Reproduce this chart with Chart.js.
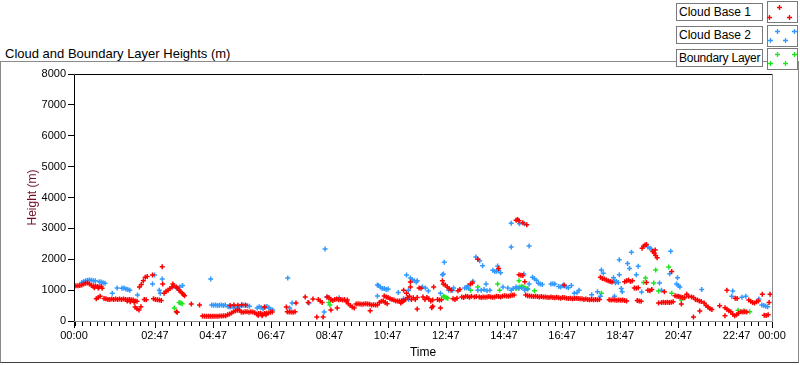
<!DOCTYPE html>
<html>
<head>
<meta charset="utf-8">
<script src="https://cdn.jsdelivr.net/npm/chart.js@4.4.1/dist/chart.umd.min.js"></script>
<style>
  body { margin: 0; background: #fff; font-family: "Liberation Sans", Arial, sans-serif; }
  #wrap { position: relative; width: 800px; height: 365px; overflow: hidden; }
  #frame { position: absolute; left: 0; top: 61px; width: 797px; height: 300px;
           border: 1px solid #8a8a8a; border-bottom-color: #404040; }
  #title { position: absolute; left: 5px; top: 46px; font-size: 13px; line-height: 15px; color: #000; white-space: nowrap; }
  .lbl { position: absolute; left: 676px; width: 87px; height: 18px; box-sizing: border-box; white-space: nowrap; overflow: hidden;
         border: 1px solid #7a7a7a; background: #fff; font-size: 12px; line-height: 16px; padding-left: 2px; }
  .sw { position: absolute; left: 767px; width: 31px; height: 22px; box-sizing: border-box;
        border: 1px solid #7a7a7a; background: #fff; }
  canvas { position: absolute; left: 0; top: 0; }
</style>
</head>
<body>
<div id="wrap">
  <div id="frame"></div>
  <div id="title">Cloud and Boundary Layer Heights (m)</div>
  <div class="lbl" style="top:3px">Cloud Base 1</div>
  <div class="sw" style="top:1px"></div>
  <div class="lbl" style="top:26px">Cloud Base 2</div>
  <div class="sw" style="top:25px"></div>
  <div class="lbl" style="top:49px; letter-spacing:-0.25px">Boundary Layer</div>
  <div class="sw" style="top:48px"></div>
  <canvas id="chart" width="800" height="365"></canvas>
</div>
<script>
// Werte: [Minuten seit 00:00, Höhe in m]
const cloudBase1 = [
  [0,1130],[4,1140],[8,1140],[12,1150],[16,1170],[20,1200],[24,1220],[28,1230],[32,1200],[36,1150],[40,1130],[44,1130],[48,1120],[52,1100],[56,1120],[42,1080],[50,1070],[58,1060],
  [46,720],[50,760],[54,800],
  [62,730],[66,720],[70,700],[74,700],[78,710],[82,700],[86,710],[90,700],[94,710],[98,700],[102,710],[106,700],[110,690],[114,700],[118,690],[122,680],[126,650],[130,640],
  [110,650],[116,620],[124,610],[126,450],[130,400],[134,360],[138,460],
  [135,1100],[139,1180],[143,1300],[147,1420],[151,1440],[145,700],[149,690],
  [162,1490],[164,720],[168,700],[172,690],[176,680],[180,660],
  [182,1760],[183,1200],[186,900],[190,960],[194,1000],[198,1050],[202,1100],[204,1200],[206,1130],
  [211,1100],[214,1060],[217,1000],[220,950],[223,900],[226,860],[228,820],
  [211,300],[213,280],[242,550],[259,520],
  [265,160],[269,150],[273,150],[277,150],[281,150],[285,150],[289,150],[293,150],[297,155],[301,160],[305,160],[309,170],[313,170],
  [317,200],[321,230],[325,260],[329,300],[333,330],[337,350],[341,360],
  [322,500],[330,520],[338,510],[346,530],[354,520],
  [345,290],[349,280],[353,300],[357,300],[361,280],[365,300],[369,290],[373,270],
  [377,230],[381,240],[385,250],[389,220],[393,240],[397,250],[401,260],[405,280],[409,290],[380,180],[388,170],[396,200],[393,450],
  [438,450],[440,300],[444,290],[448,290],[452,280],[456,300],[458,580],
  [477,780],[483,600],[493,710],[501,130],[514,130],
  [504,700],[508,650],[512,600],[522,780],[526,760],[530,700],[534,660],[530,360],
  [538,700],[542,710],[546,690],[550,700],[554,680],[558,700],[543,420],
  [562,620],[564,680],[566,560],[570,500],[574,450],[578,420],
  [582,550],[586,560],[590,550],[594,540],[598,550],[602,560],[606,550],[610,540],[611,330],
  [614,520],[618,530],[622,520],[626,520],
  [630,600],[634,640],[638,650],[642,600],[646,560],
  [640,810],[644,780],[648,760],[652,720],[656,700],[660,680],[664,650],[668,650],[672,650],[676,640],[680,660],
  [684,700],[686,900],[688,760],[692,800],
  [674,580],[678,620],[696,700],[680,1000],[694,1100],[694,1260],
  [700,750],[704,700],[708,760],[708,390],[712,1070],[716,1060],
  [720,780],[724,700],[728,760],[732,720],[736,650],[740,680],[740,480],[738,430],[742,1100],
  [750,700],[754,680],[758,690],[756,420],[760,1300],
  [762,1200],[766,1170],[770,1100],[774,1050],[778,1000],
  [782,720],[786,700],[790,740],[792,980],[796,1020],
  [800,780],[804,760],[808,800],[812,790],[816,770],[820,800],[818,1200],[822,1230],[826,780],[830,790],[833,2000],
  [836,780],[840,760],[844,780],[848,770],[852,780],[856,790],[860,780],[864,770],[868,780],[872,800],[876,790],[880,780],[876,1700],
  [884,800],[888,820],[892,810],[896,800],[900,820],[904,830],[908,840],
  [912,3260],[915,3290],[918,3250],[926,3180],[934,3120],
  [918,1500],[922,1480],[926,1470],[930,1270],
  [932,840],[936,820],[940,810],[944,800],[948,790],[952,800],[956,790],[960,780],[964,790],[968,780],
  [972,780],[976,770],[980,760],[984,780],[988,760],[992,750],[996,770],[1000,750],[1004,740],[1008,760],[1011,1170],[1012,750],[1016,740],[1020,730],[1024,740],[1028,720],[1032,730],[1036,740],[1040,730],[1044,720],
  [1048,720],[1052,700],[1056,710],[1060,700],[1064,690],[1068,700],[1072,690],[1076,700],[1080,690],[1084,700],
  [1086,1420],[1090,1380],[1094,1360],[1098,1330],[1102,1300],[1106,1280],[1110,1260],
  [1104,690],[1108,680],[1112,690],[1116,680],[1120,670],[1124,680],[1128,670],[1132,680],[1136,660],[1140,650],
  [1136,1270],[1140,1300],[1144,1330],[1148,1280],[1152,1300],
  [1156,1070],[1160,1060],[1164,1080],[1162,660],[1166,650],[1170,640],
  [1172,2360],[1175,2420],[1178,2460],[1181,2480],[1194,2250],[1197,2200],[1199,2300],[1200,2120],[1203,2050],
  [1181,1250],[1184,1000],[1188,980],[1192,1020],
  [1233,1600],[1206,580],[1212,600],[1216,610],[1220,600],[1224,610],[1228,600],[1232,610],[1236,620],[1218,950],
  [1240,820],[1244,800],[1248,790],[1252,780],[1256,760],[1260,750],[1253,550],
  [1264,870],[1268,800],[1274,780],[1278,760],[1282,700],[1286,680],[1290,650],[1294,630],[1278,130],[1291,320],
  [1300,580],[1304,500],[1308,450],[1312,400],[1316,370],
  [1332,490],[1343,430],[1347,380],[1351,330],[1343,170],[1347,1000],
  [1355,300],[1359,220],[1363,170],[1367,200],[1371,250],[1376,300],[1380,290],[1384,300],[1388,290],
  [1364,740],[1368,730],
  [1392,680],[1396,640],[1400,600],[1404,580],[1408,620],[1412,650],
  [1420,870],[1436,870],[1424,190],[1428,180],[1432,200],[1434,600]
];

const cloudBase2 = [
  [16,1250],[20,1280],[24,1300],[28,1320],[32,1330],[36,1320],[40,1300],[44,1300],[52,1270],[56,1260],[60,1240],[64,1220],
  [79,900],[89,1070],[99,1060],[103,1070],[107,1040],[111,1020],[115,1000],
  [131,840],[162,1200],[166,1490],[182,1360],[176,1000],[178,900],
  [212,1070],[218,1100],[224,1150],
  [282,1360],
  [284,520],[288,510],[292,520],[296,500],[300,510],[304,520],[308,500],[312,520],
  [318,460],[322,450],[326,470],[330,460],[334,440],[338,420],
  [342,480],[346,500],[350,510],[354,500],[358,490],[362,480],
  [378,420],[382,460],[386,440],[390,400],[394,450],[398,470],[402,430],[406,380],[410,360],
  [441,1390],[450,580],[445,420],[485,580],
  [518,2330],[516,290],[522,780],[547,750],
  [626,1170],[628,1150],[632,1100],[636,1050],[640,1050],[644,1020],[648,1040],[626,810],
  [669,920],[686,1490],[690,1000],
  [694,1390],[698,1340],[702,1300],[706,1260],[680,720],[690,700],[708,1300],[719,1100],[725,1070],[731,970],
  [760,1500],[762,1520],[764,1900],[756,900],[773,1000],[781,1000],[783,1070],
  [806,1070],[810,1080],[814,1060],[812,1140],[823,1290],[833,1000],
  [829,2070],[837,1950],[843,1790],
  [840,1000],[846,1020],[852,980],[858,1000],[850,1200],
  [864,1640],[868,1600],[872,1610],[876,1640],[880,1560],[874,1780],
  [885,1100],[895,1070],[902,1000],
  [902,3170],[919,3150],[929,3150],[902,2400],[939,2430],
  [906,1050],[912,1100],[918,1060],[924,1080],[930,1000],[936,1040],[928,1520],
  [939,1200],[946,1420],[950,1370],[954,1320],[958,1220],[962,1200],[966,1180],
  [984,1200],[988,1210],[992,1200],[1000,1120],[1004,1100],[1008,1140],[1012,1130],[1016,1100],[1020,1080],
  [1026,1150],[1032,900],[1038,920],[1042,1000],
  [1068,850],[1080,950],[1086,800],[1088,1650],[1092,1550],
  [1113,1400],[1115,1300],[1117,1240],[1119,1280],[1123,1250],[1125,1500],[1125,1980],[1115,800],[1129,1050],[1131,950],
  [1140,1300],[1142,1860],[1146,1700],[1150,2230],[1184,2400],[1188,2360],[1191,2330],
  [1164,1770],[1160,1500],[1171,940],[1208,1230],
  [1231,2260],[1229,1530],[1212,1000],
  [1243,1200],[1247,1150],[1250,1100],[1245,1400],[1247,800],
  [1295,1020],[1359,970],[1357,800],[1378,770],[1386,800],[1413,710],
  [1419,520],[1423,500],[1427,480],[1431,460]
];

const boundaryLayer = [
  [207,420],[217,600],[220,580],[223,560],
  [526,600],[528,520],
  [762,800],[765,780],[768,750],[771,740],
  [818,1000],[833,1100],[874,1200],[878,1000],
  [912,1050],[916,1080],[920,1100],[924,1120],[928,1100],[932,1060],[936,1040],[918,1300],[950,980],
  [1088,900],[1175,1250],[1179,1390],[1196,1230],[1200,1650],[1206,970],[1227,1750],[1233,900],[1253,680],
  [1370,350],[1382,330],[1394,300]
];

// Achsen: Beschriftete Zeitmarken (Minuten) und Höhenbereich
const timeLabelMinutes = [0, 167, 287, 407, 527, 647, 767, 887, 1007, 1127, 1247, 1367, 1440];
const heightTicks = [0, 1000, 2000, 3000, 4000, 5000, 6000, 7000, 8000];
const seriesNames = ['Cloud Base 1', 'Cloud Base 2', 'Boundary Layer'];
const seriesColors = ['#ff0000', '#3399ff', '#1ee61e'];

const FONT = '"Liberation Sans", Arial, sans-serif';

function fmtTime(min) {
  const m = Math.round(min) % 1440;
  const h = Math.floor(m / 60), mm = m % 60;
  return String(h).padStart(2, '0') + ':' + String(mm).padStart(2, '0');
}

const toXY = arr => arr.map(p => ({ x: p[0], y: p[1] }));

// Rahmen, Nebenteilstriche und Legendensymbole
const framePlugin = {
  id: 'framePlugin',
  afterDraw(chart) {
    const { ctx, chartArea: a, scales: { x } } = chart;
    ctx.save();
    ctx.lineWidth = 1;
    // Teilstriche der Zeitachse
    ctx.strokeStyle = '#000';
    ctx.beginPath();
    for (let m = 2; m <= 1440; m += 15) {
      const px = Math.round(x.getPixelForValue(m)) + 0.5;
      ctx.moveTo(px, a.bottom + 1); ctx.lineTo(px, a.bottom + 5);
    }
    timeLabelMinutes.forEach(m => {
      const px = Math.round(x.getPixelForValue(m)) + 0.5;
      ctx.moveTo(px, a.bottom + 1); ctx.lineTo(px, a.bottom + 7);
    });
    ctx.stroke();
    // Rahmen des Plotbereichs
    ctx.strokeStyle = '#000';
    ctx.beginPath();
    ctx.moveTo(a.left + 0.5, a.bottom); ctx.lineTo(a.left + 0.5, a.top + 0.5); ctx.lineTo(a.right, a.top + 0.5);
    ctx.stroke();
    ctx.strokeStyle = '#8c8c8c';
    ctx.beginPath();
    ctx.moveTo(a.right + 0.5, a.top); ctx.lineTo(a.right + 0.5, a.bottom + 0.5); ctx.lineTo(a.left, a.bottom + 0.5);
    ctx.stroke();
    // Legendensymbole
    const legendMarks = [
      [[779, 7], [769, 17], [789, 17]],
      [[777, 31], [794, 31], [770, 40], [785, 40]],
      [[777, 54], [794, 54], [770, 63], [785, 63]]
    ];
    ctx.lineWidth = 1.3;
    legendMarks.forEach((marks, i) => {
      ctx.strokeStyle = seriesColors[i];
      ctx.beginPath();
      marks.forEach(([mx, my]) => {
        ctx.moveTo(mx - 2, my + 0.5); ctx.lineTo(mx + 3, my + 0.5);
        ctx.moveTo(mx + 0.5, my - 2); ctx.lineTo(mx + 0.5, my + 3);
      });
      ctx.stroke();
    });
    ctx.restore();
  }
};

const makeSet = (data, i) => ({
  label: seriesNames[i],
  data: toXY(data),
  pointStyle: 'cross',
  radius: 2.5,
  borderWidth: 1.5,
  borderColor: seriesColors[i],
  backgroundColor: seriesColors[i],
  showLine: false
});

new Chart(document.getElementById('chart'), {
  type: 'scatter',
  data: {
    datasets: [makeSet(cloudBase1, 0), makeSet(cloudBase2, 1), makeSet(boundaryLayer, 2)]
  },
  options: {
    responsive: false,
    animation: false,
    events: [],
    layout: { padding: { top: 74, right: 28, bottom: 0, left: 0 } },
    plugins: { legend: { display: false }, tooltip: { enabled: false } },
    scales: {
      x: {
        type: 'linear',
        min: 0, max: 1440,
        afterBuildTicks: s => { s.ticks = timeLabelMinutes.map(v => ({ value: v })); },
        afterFit: s => { s.height = 44; },
        ticks: { autoSkip: false, maxRotation: 0, padding: 8, color: '#000',
                 font: { family: FONT, size: 11 }, callback: v => fmtTime(v) },
        grid: { display: false, drawTicks: false },
        border: { display: false },
        title: { display: true, text: 'Time', color: '#000', font: { family: FONT, size: 12 },
                 padding: { top: 0, bottom: 5 } }
      },
      y: {
        min: 0, max: 8000,
        afterBuildTicks: s => { s.ticks = heightTicks.map(v => ({ value: v })); },
        afterFit: s => { s.width = 74; },
        ticks: { padding: 2, color: '#000', font: { family: FONT, size: 11 }, callback: v => String(v) },
        grid: { display: true, drawOnChartArea: false, drawTicks: true, tickLength: 6, tickColor: '#000' },
        border: { display: false },
        title: { display: true, text: 'Height (m)', color: '#6e0f26', font: { family: FONT, size: 12 },
                 padding: { top: 25, bottom: 0 } }
      }
    }
  },
  plugins: [framePlugin]
});
</script>
</body>
</html>
